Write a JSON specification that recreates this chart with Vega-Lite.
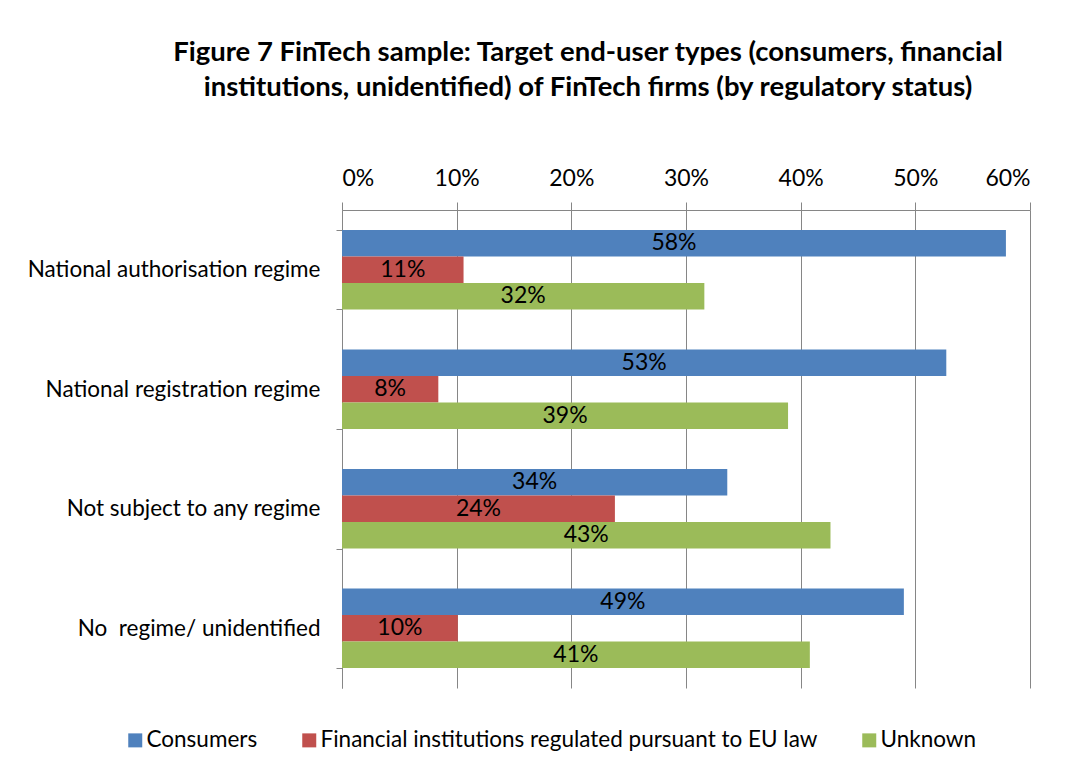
{
  "$schema": "https://vega.github.io/schema/vega-lite/v6.json",
  "width": 688,
  "height": 478,
  "autosize": {"type": "none"},
  "padding": {"left": 342, "top": 210, "right": 45, "bottom": 83},
  "background": "white",
  "title": {
    "text": ["Figure 7 FinTech sample: Target end-user types (consumers, financial", "institutions, unidentified) of FinTech firms (by regulatory status)"],
    "font": "Lato",
    "fontSize": 27.5,
    "fontWeight": "bold",
    "color": "black",
    "anchor": "middle",
    "frame": "group",
    "dx": -98,
    "offset": 66,
    "lineHeight": 35
  },
  "data": {
    "values": [
      {"regime": "National authorisation regime", "type": "Consumers", "value": 0.579},
      {"regime": "National authorisation regime", "type": "Financial institutions regulated pursuant to EU law", "value": 0.106},
      {"regime": "National authorisation regime", "type": "Unknown", "value": 0.316},
      {"regime": "National registration regime", "type": "Consumers", "value": 0.527},
      {"regime": "National registration regime", "type": "Financial institutions regulated pursuant to EU law", "value": 0.084},
      {"regime": "National registration regime", "type": "Unknown", "value": 0.389},
      {"regime": "Not subject to any regime", "type": "Consumers", "value": 0.336},
      {"regime": "Not subject to any regime", "type": "Financial institutions regulated pursuant to EU law", "value": 0.238},
      {"regime": "Not subject to any regime", "type": "Unknown", "value": 0.426},
      {"regime": "No\u00a0 regime/ unidentified", "type": "Consumers", "value": 0.49},
      {"regime": "No\u00a0 regime/ unidentified", "type": "Financial institutions regulated pursuant to EU law", "value": 0.101},
      {"regime": "No\u00a0 regime/ unidentified", "type": "Unknown", "value": 0.408}
    ]
  },
  "encoding": {
    "y": {
      "field": "regime",
      "type": "nominal",
      "sort": null,
      "title": null,
      "scale": {"paddingInner": 0.335, "paddingOuter": 0.167},
      "axis": {
        "tickBand": "extent",
        "domainColor": "#868686",
        "tickColor": "#868686",
        "tickSize": 6,
        "labelFont": "Lato",
        "labelFontSize": 22.5,
        "labelColor": "black",
        "labelPadding": 16,
        "labelLimit": 400,
        "grid": false
      }
    },
    "yOffset": {
      "field": "type",
      "type": "nominal",
      "sort": ["Consumers", "Financial institutions regulated pursuant to EU law", "Unknown"],
      "scale": {"paddingInner": 0, "paddingOuter": 0}
    }
  },
  "layer": [
    {
      "mark": {"type": "bar"},
      "encoding": {
        "x": {
          "field": "value",
          "type": "quantitative",
          "title": null,
          "scale": {"domain": [0, 0.6], "nice": false},
          "axis": {
            "orient": "top",
            "format": ".0%",
            "values": [0, 0.1, 0.2, 0.3, 0.4, 0.5, 0.6],
            "domainColor": "#868686",
            "tickColor": "#868686",
            "tickSize": 8,
            "gridColor": "#868686",
            "gridOpacity": 1,
            "labelFont": "Lato",
            "labelFontSize": 23,
            "labelColor": "black",
            "labelPadding": 12
          }
        },
        "color": {
          "field": "type",
          "type": "nominal",
          "sort": ["Consumers", "Financial institutions regulated pursuant to EU law", "Unknown"],
          "scale": {"domain": ["Consumers", "Financial institutions regulated pursuant to EU law", "Unknown"], "range": ["#4F81BD", "#C0504D", "#9BBB59"]},
          "legend": {
            "title": null,
            "orient": "none",
            "direction": "horizontal",
            "legendX": -218,
            "legendY": 519,
            "symbolType": "square",
            "symbolSize": 196,
            "symbolStrokeWidth": 0,
            "symbolOpacity": 1,
            "labelFont": "Lato",
            "labelFontSize": 22.5,
            "labelColor": "black",
            "labelOffset": 0,
            "columnPadding": 40,
            "labelLimit": 700
          }
        }
      }
    },
    {
      "transform": [{"calculate": "datum.value / 2", "as": "mid"}],
      "mark": {"type": "text", "font": "Lato", "fontSize": 23, "color": "black", "align": "center", "baseline": "middle"},
      "encoding": {
        "x": {"field": "mid", "type": "quantitative"},
        "text": {"field": "value", "type": "quantitative", "format": ".0%"}
      }
    }
  ],
  "config": {
    "view": {"stroke": null}
  }
}
